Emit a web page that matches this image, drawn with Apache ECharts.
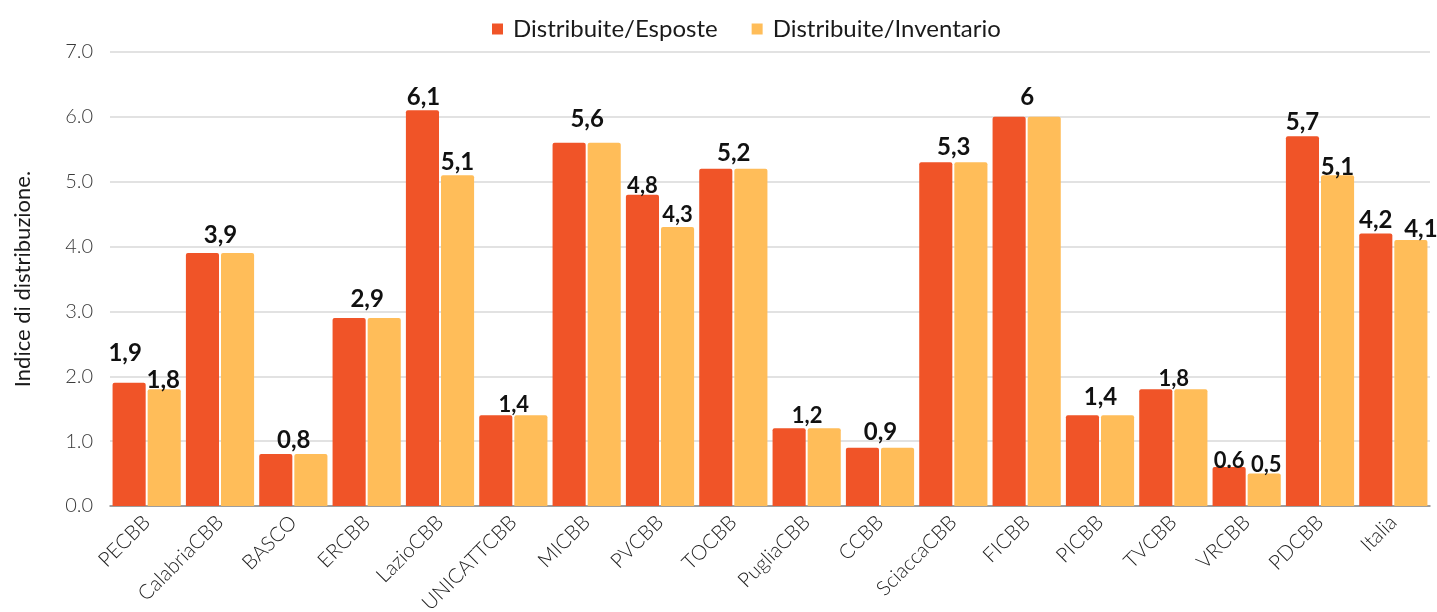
<!DOCTYPE html>
<html>
<head>
<meta charset="utf-8">
<script src="https://cdn.jsdelivr.net/npm/echarts@6/dist/echarts.min.js"></script>
<style>html,body{margin:0;padding:0;background:#fff}#c{width:1437px;height:612px}</style>
</head>
<body>
<div id="c"></div>
<script>
const categories = ['PECBB','CalabriaCBB','BASCO','ERCBB','LazioCBB','UNICATTCBB','MICBB','PVCBB','TOCBB','PugliaCBB','CCBB','SciaccaCBB','FICBB','PICBB','TVCBB','VRCBB','PDCBB','Italia'];
const esposte =    [1.9, 3.9, 0.8, 2.9, 6.1, 1.4, 5.6, 4.8, 5.2, 1.2, 0.9, 5.3, 6.0, 1.4, 1.8, 0.6, 5.7, 4.2];
const inventario = [1.8, 3.9, 0.8, 2.9, 5.1, 1.4, 5.6, 4.3, 5.2, 1.2, 0.9, 5.3, 6.0, 1.4, 1.8, 0.5, 5.1, 4.1];
// label texts as printed in the picture (null = no label)
const labelsEsposte =    ['1,9','3,9','0,8','2,9','6,1','1,4','5,6','4,8','5,2','1,2','0,9','5,3','6','1,4','1,8','0.6','5,7','4,2'];
const labelsInventario = ['1,8',null,null,null,'5,1',null,null,'4,3',null,null,null,null,null,null,null,'0,5','5,1','4,1'];
const yTicks = ['0.0','1.0','2.0','3.0','4.0','5.0','6.0','7.0'];

// layout: [dx, dy, small] per label
const layoutA = [[-4,-13,0],[18,-1,0],[18,3,0],[18,-2,0],[1,4,0],[18,6,1],[18,-7,0],[0,7,1],[18,2,0],[18,4,1],[18,2,0],[18,2,0],[18,-3,0],[18,-1,0],[18,6,1],[0,10,1],[0,3,0],[0,4,0]];
const layoutB = [[-1,8,0],null,null,null,[0,4,0],null,null,[0,4,1],null,null,null,null,null,null,null,[2,7,1],[0,9,0],[10,6,0]];

function mk(vals, labels, layout) {
  return vals.map((v, i) => {
    const t = labels[i];
    const l = layout[i];
    if (!t) return { value: v, label: { show: false } };
    return {
      value: v,
      label: {
        show: true, position: 'top', distance: 5,
        formatter: t,
        offset: [l[0], l[1]],
        fontSize: l[2] ? 22 : 24,
        fontWeight: 'bold', color: '#111', fontFamily: 'Lato'
      }
    };
  });
}

const chart = echarts.init(document.getElementById('c'));
chart.setOption({
  animation: false,
  textStyle: { fontFamily: 'Lato' },
  legend: {
    top: 12, left: 487, itemWidth: 11, itemHeight: 11, itemGap: 34,
    icon: 'rect',
    textStyle: { fontSize: 24, color: '#1a1a1a', fontFamily: 'Lato', padding: [0, 0, 0, 5] },
    data: ['Distribuite/Esposte', 'Distribuite/Inventario']
  },
  grid: { left: 110, right: 7, top: 52, bottom: 106, containLabel: false, outerBoundsMode: 'none' },
  xAxis: {
    type: 'category', data: categories,
    axisTick: { show: false },
    axisLine: { lineStyle: { color: '#888', width: 1.5 } },
    axisLabel: { rotate: 45, fontSize: 20.5, fontWeight: 300, color: '#1e1e1e', margin: 13, interval: 0, fontFamily: 'Lato' }
  },
  yAxis: {
    type: 'value', min: 0, max: 7, interval: 1,
    name: 'Indice di distribuzione.', nameLocation: 'middle', nameGap: 76, nameRotate: 90,
    nameTextStyle: { fontSize: 22, color: '#1a1a1a', fontFamily: 'Lato' },
    axisLabel: { fontSize: 20, fontWeight: 300, color: '#3a3a3a', margin: 17, formatter: (v) => yTicks[Math.round(v)], fontFamily: 'Lato' },
    splitLine: { lineStyle: { color: '#d9d9d9', width: 1.5 } },
    axisLine: { show: false }, axisTick: { show: false }
  },
  series: [
    { name: 'Distribuite/Esposte', type: 'bar', data: mk(esposte, labelsEsposte, layoutA),
      barGap: '6%', barCategoryGap: '7%', itemStyle: { color: '#F05428', borderRadius: [2,2,0,0] } },
    { name: 'Distribuite/Inventario', type: 'bar', data: mk(inventario, labelsInventario, layoutB.map(x => x || [0,0,0])),
      itemStyle: { color: '#FFBD59', borderRadius: [2,2,0,0] } }
  ]
});
</script>
</body>
</html>
